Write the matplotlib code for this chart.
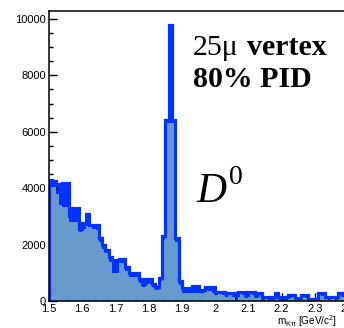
"""
Espectro de masa K-pi: pico D0 sobre fondo
"""

import numpy as np
import matplotlib
matplotlib.use('Agg')
import matplotlib.pyplot as plt
from matplotlib.ticker import MultipleLocator

plt.rcParams['font.family'] = ['Liberation Sans', 'DejaVu Sans']

# Histograma: 90 bins de 0.01 GeV/c^2 entre 1.5 y 2.4
bin_lo = 1.5
bin_hi = 2.4
n_bins = 90

# Contorno azul (todas las entradas)
cuentas_linea = [
    4300, 4250, 4150, 3850, 4200, 4200, 3000, 3300, 3300, 2550,
    2750, 3100, 2700, 2700, 2700, 2250, 2000, 1800, 1550, 1450,
    1450, 1500, 1500, 1200, 1000, 1000, 1000, 780, 620, 780,
    780, 600, 480, 820, 2300, 6400, 9800, 6400, 2250, 700,
    460, 460, 380, 520, 520, 380, 380, 480, 480, 480,
    330, 330, 330, 280, 270, 270, 200, 330, 330, 210,
    330, 330, 220, 300, 130, 130, 130, 130, 270, 130,
    130, 130, 210, 210, 120, 120, 210, 210, 60, 60,
    60, 270, 270, 150, 150, 150, 150, 270, 270, 270,
]

# Relleno (seleccion)
cuentas_relleno = [
    4050, 4050, 3800, 3400, 3350, 3350, 2800, 2800, 2800, 2450,
    2550, 2650, 2650, 2550, 2500, 2100, 1850, 1700, 1400, 1000,
    1000, 1350, 1350, 1050, 860, 860, 860, 650, 480, 620,
    620, 480, 380, 700, 2150, 6300, 6300, 6300, 2100, 560,
    280, 280, 300, 280, 280, 300, 280, 380, 350, 300,
    230, 250, 200, 150, 200, 150, 0, 250, 200, 100,
    250, 200, 100, 200, 50, 80, 50, 50, 200, 50,
    0, 0, 120, 150, 50, 50, 150, 120, 0, 0,
    50, 200, 180, 80, 50, 80, 50, 200, 150, 200,
]

azul = '#0033ff'
relleno = '#6699cc'

W, H = 344, 328
fig = plt.figure(figsize=(W / 100, H / 100), dpi=100)
ax = fig.add_axes([49 / W, 27 / H, 299 / W, 290.5 / H])

bordes = np.linspace(bin_lo, bin_hi, n_bins + 1)
ax.stairs(cuentas_linea, bordes, fill=True, color=azul, zorder=1)
ax.stairs(cuentas_relleno, bordes, fill=True, color=relleno, zorder=2)
ax.stairs(cuentas_linea, bordes, color=azul, linewidth=2.3, zorder=3)

ax.set_xlim(bin_lo, bin_hi)
ax.set_ylim(0, 10300)

ax.xaxis.set_major_locator(MultipleLocator(0.1))
ax.xaxis.set_minor_locator(MultipleLocator(0.02))
ax.yaxis.set_major_locator(MultipleLocator(2000))
ax.yaxis.set_minor_locator(MultipleLocator(500))
ax.xaxis.set_major_formatter(plt.FuncFormatter(lambda v, p: f'{v:g}'))

ax.tick_params(which='both', direction='in', top=False, right=False,
               width=1.0, labelsize=8, pad=2)
ax.tick_params(which='major', length=5.5)
ax.tick_params(which='minor', length=3)
for s in ax.spines.values():
    s.set_linewidth(1.1)
    s.set_zorder(4)

# Etiquetas de texto
def px(x, y):
    return x / W, 1 - y / H

fig.text(*px(193, 55), '25\u03bc', family='Liberation Serif', fontsize=21.5,
         va='baseline')
fig.text(*px(247, 55), 'vertex', family='Liberation Serif', fontsize=21.5,
         fontweight='bold', va='baseline')
fig.text(*px(193, 87), '80% PID', family='Liberation Serif', fontsize=21.5,
         fontweight='bold', va='baseline')
fig.text(*px(196, 202), 'D', family='Liberation Serif', fontstyle='italic',
         fontsize=30, va='baseline')
fig.text(*px(229, 184), '0', family='Liberation Serif', fontsize=20,
         va='baseline')

fig.text(*px(277, 325), r'm$_{\mathregular{K\pi}}$ [GeV/c$^{\mathregular{2}}$]',
         fontsize=7.2, va='baseline')

plt.savefig('out.png', dpi=100)
plt.close()
